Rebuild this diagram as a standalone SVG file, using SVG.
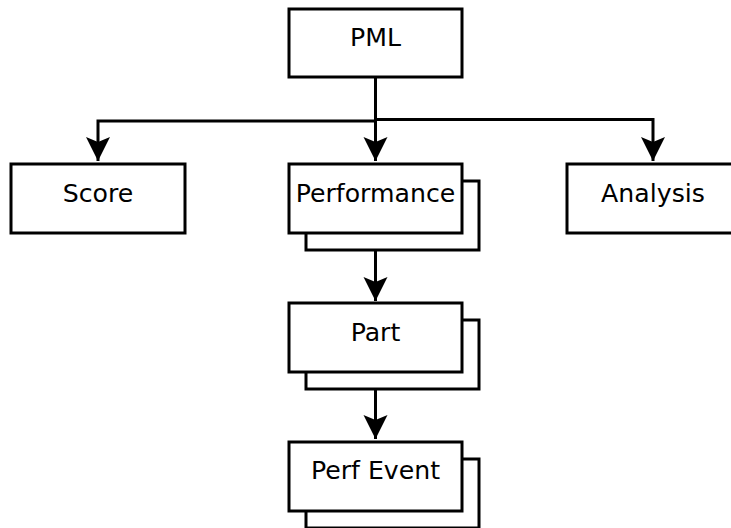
<svg xmlns="http://www.w3.org/2000/svg" width="731" height="528" viewBox="0 0 731 528">
<style>
.box{fill:#fff;stroke:#000;stroke-width:3}
.lbl{font-family:"DejaVu Sans",sans-serif;font-size:25.2px;fill:#000;text-anchor:middle}
.edge{fill:none;stroke:#000;stroke-width:3}
</style>
<defs>
<marker id="ah" markerUnits="userSpaceOnUse" markerWidth="26" markerHeight="26" viewBox="0 0 26 26" refX="24" refY="13" orient="auto">
<path d="M0,1 L24,13 L0,25 L5,13 Z" fill="#000"/>
</marker>
</defs>
<rect width="731" height="528" fill="#fff"/>
<g id="edges">
<path class="edge" d="M375.5,78 V161" marker-end="url(#ah)"/>
<path class="edge" d="M375.5,121 H98 V161" marker-end="url(#ah)"/>
<path class="edge" d="M375.5,119.5 H653 V161" marker-end="url(#ah)"/>
<path class="edge" d="M375.5,234 V301" marker-end="url(#ah)"/>
<path class="edge" d="M375.5,372 V439" marker-end="url(#ah)"/>
</g>
<g id="pml">
<rect class="box" x="289" y="9" width="173" height="68"/>
<text class="lbl" x="375.5" y="46">PML</text>
</g>
<g id="score">
<rect class="box" x="11" y="164" width="174" height="69"/>
<text class="lbl" x="98" y="202">Score</text>
</g>
<g id="performance">
<rect class="box" x="306" y="181" width="173" height="69"/>
<rect class="box" x="289" y="164" width="173" height="69"/>
<text class="lbl" x="375.5" y="202">Performance</text>
</g>
<g id="analysis">
<rect class="box" x="567" y="164" width="173" height="69"/>
<text class="lbl" x="653" y="202">Analysis</text>
</g>
<g id="part">
<rect class="box" x="306" y="320" width="173" height="69"/>
<rect class="box" x="289" y="303" width="173" height="69"/>
<text class="lbl" x="375.5" y="341">Part</text>
</g>
<g id="perfevent">
<rect class="box" x="306" y="459" width="173" height="69"/>
<rect class="box" x="289" y="442" width="173" height="69"/>
<text class="lbl" x="375.5" y="479">Perf Event</text>
</g>
</svg>
